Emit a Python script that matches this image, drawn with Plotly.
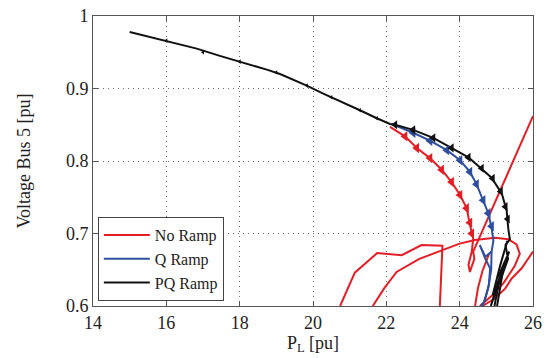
import plotly.graph_objects as go

# ---------------- data ----------------
# No Ramp (red) trajectories, None separates pieces
red_p = [22.10, 22.51, 22.83, 23.19, 23.51, 23.78, 24.01, 24.19, 24.28, 24.37, 24.33, 24.24, 24.28, 24.40, 24.37, 26.0, None,
         21.63, 21.95, 22.28, 22.90, 23.53, 24.00, 24.42, 24.96, 25.33, 25.55, 25.64, 25.50, 25.20, 24.90, 24.55, None,
         20.74, 21.14, 21.75, 22.42, 22.96, 23.53, 23.46, None,
         26.0, 25.69, 25.42, 25.24, 24.95, 24.62, None,
         24.42, 24.50, 24.62, 24.80]
red_v = [0.847, 0.834, 0.818, 0.804, 0.788, 0.771, 0.753, 0.735, 0.712, 0.693, 0.675, 0.657, 0.647, 0.665, 0.675, 0.862, None,
         0.600, 0.625, 0.647, 0.665, 0.677, 0.686, 0.691, 0.694, 0.692, 0.685, 0.672, 0.655, 0.632, 0.615, 0.600, None,
         0.600, 0.646, 0.673, 0.670, 0.684, 0.683, 0.600, None,
         0.675, 0.652, 0.638, 0.624, 0.610, 0.600, None,
         0.600, 0.625, 0.648, 0.672]

# Q Ramp (blue)
blue_p = [22.15, 22.73, 23.19, 23.65, 24.01, 24.28, 24.46, 24.64, 24.78, 24.87, 24.92, 24.87, 24.70, 24.55, 24.70,
          24.83, 24.80, 24.70, 24.62, None,
          24.87, 24.86, 24.78, 24.66, 24.58]
blue_v = [0.851, 0.839, 0.828, 0.815, 0.801, 0.785, 0.768, 0.746, 0.728, 0.708, 0.690, 0.675, 0.668, 0.684, 0.665,
          0.652, 0.630, 0.610, 0.600, None,
          0.675, 0.650, 0.625, 0.605, 0.600]

# PQ Ramp (black)
black_p = [15.0, 16.0, 16.83, 17.46, 18.15, 18.74, 19.10, 19.83, 20.28, 20.78, 21.28, 21.74, 22.10, 22.24, 22.73,
           23.28, 23.78, 24.24, 24.51, 24.87, 25.15, 25.28, 25.33, 25.37, 25.25, 25.32, 25.00, 25.22, 25.05, 25.35,
           24.85, 25.12, 24.95, None,
           25.30, 25.10, 24.90, 25.18, 25.02]
black_v = [0.978, 0.966, 0.955, 0.945, 0.935, 0.926, 0.920, 0.904, 0.893, 0.882, 0.870, 0.859, 0.851, 0.850, 0.843,
           0.832, 0.818, 0.805, 0.793, 0.777, 0.755, 0.732, 0.705, 0.692, 0.684, 0.665, 0.620, 0.660, 0.640, 0.675,
           0.600, 0.645, 0.600, None,
           0.690, 0.655, 0.615, 0.648, 0.600]

# time-step flags on the trajectories
red_mark_p = [22.51, 22.83, 23.19, 23.51, 23.78, 24.01, 24.19, 24.28, 24.33]
red_mark_v = [0.834, 0.818, 0.804, 0.788, 0.771, 0.753, 0.735, 0.715, 0.700]
blue_mark_p = [22.73, 23.19, 23.65, 24.01, 24.28, 24.46, 24.64, 24.78, 24.87]
blue_mark_v = [0.839, 0.828, 0.815, 0.801, 0.785, 0.768, 0.746, 0.728, 0.710]
black_mark_p = [22.24, 22.73, 23.28, 23.78, 24.24, 24.60, 24.90, 25.12, 25.25, 25.31]
black_mark_v = [0.850, 0.843, 0.832, 0.818, 0.805, 0.790, 0.776, 0.758, 0.737, 0.720]
# small ticks on the common pre-disturbance curve
black_tick_p = [16.0, 17.0, 18.0, 19.0, 19.83, 20.5, 21.28, 21.74]
black_tick_v = [0.966, 0.950, 0.937, 0.922, 0.904, 0.888, 0.870, 0.859]

x_ticks = [14, 16, 18, 20, 22, 24, 26]
y_ticks = [0.6, 0.7, 0.8, 0.9, 1.0]
y_tick_text = ["0.6", "0.7", "0.8", "0.9", "1"]

RED = "#e41e26"
BLUE = "#2f4f9e"
BLACK = "#111111"
FONT = "Liberation Serif"

fig = go.Figure()
for name, p, v, col in [("No Ramp", red_p, red_v, RED), ("Q Ramp", blue_p, blue_v, BLUE),
                        ("PQ Ramp", black_p, black_v, BLACK)]:
    fig.add_trace(go.Scatter(x=p, y=v, mode="lines", name=name,
                             line=dict(color=col, width=2), connectgaps=False))

for p, v, col, sz in [(red_mark_p, red_mark_v, RED, 9), (blue_mark_p, blue_mark_v, BLUE, 9),
                      (black_mark_p, black_mark_v, BLACK, 8), (black_tick_p, black_tick_v, BLACK, 4)]:
    fig.add_trace(go.Scatter(x=p, y=v, mode="markers", showlegend=False, hoverinfo="skip",
                             marker=dict(symbol="triangle-left", size=sz, color=col, line=dict(width=0))))

axis_common = dict(showline=True, linecolor="#555555", linewidth=1, mirror="ticks",
                   ticks="inside", ticklen=5, tickcolor="#555555", automargin=False,
                   showgrid=True, gridcolor="#6a6a6a", griddash="1px,4px", gridwidth=1,
                   zeroline=False, tickfont=dict(family=FONT, size=18, color="#222"))

fig.update_xaxes(range=[14, 26], tickvals=x_ticks,
                 title=dict(text="P<sub>L</sub> [pu]", font=dict(family=FONT, size=18, color="#222"), standoff=2),
                 **axis_common)
fig.update_yaxes(range=[0.6, 1.0], tickvals=y_ticks, ticktext=y_tick_text,
                 title=dict(text="Voltage Bus 5 [pu]", font=dict(family=FONT, size=18, color="#222"), standoff=30),
                 **axis_common)

fig.update_layout(
    width=555, height=358,
    margin=dict(l=93, r=22, t=16, b=52),
    plot_bgcolor="white", paper_bgcolor="white",
    legend=dict(x=0.011, y=0.017, xanchor="left", yanchor="bottom",
                bgcolor="white", bordercolor="#444", borderwidth=1,
                font=dict(family=FONT, size=16, color="#222"),
                tracegroupgap=0, itemwidth=46),
)

fig.write_html("out.html", config={"displayModeBar": False},
               post_script="document.body.style.margin='0';")
